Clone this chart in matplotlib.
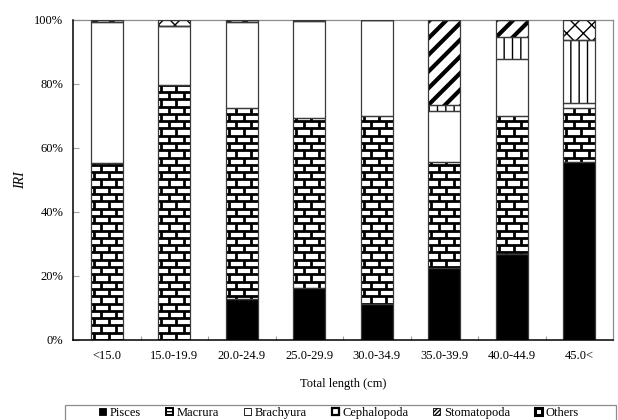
import numpy as np
import matplotlib
matplotlib.use("Agg")
import matplotlib.pyplot as plt
from matplotlib.patches import Patch, Rectangle
from matplotlib.collections import LineCollection

plt.rcParams['font.family'] = ['Liberation Serif', 'DejaVu Serif']
plt.rcParams['font.size'] = 9

# IRI composition (%) by total length class
categories = ['<15.0', '15.0-19.9', '20.0-24.9', '25.0-29.9',
              '30.0-34.9', '35.0-39.9', '40.0-44.9', '45.0<']
pisces      = [0.0, 0.0, 12.7, 16.1, 11.3, 22.4, 26.8, 55.5]
macrura     = [55.3, 79.7, 59.9, 53.4, 58.7, 33.1, 43.2, 17.0]
brachyura   = [44.2, 18.4, 26.9, 30.2, 30.0, 16.1, 17.7, 1.5]
cephalopoda = [0.0, 0.0, 0.0, 0.0, 0.0, 1.7, 7.1, 19.75]
stomatopoda = [0.5, 0.0, 0.5, 0.3, 0.0, 26.7, 5.2, 0.0]
others      = [0.0, 1.9, 0.0, 0.0, 0.0, 0.0, 0.0, 6.25]
yticks = [0, 20, 40, 60, 80, 100]
ytick_labels = ['0%', '20%', '40%', '60%', '80%', '100%']

W, H = 618, 420
fig = plt.figure(figsize=(W / 100, H / 100), dpi=100)
ax = fig.add_axes([73 / W, 1 - 340 / H, 540 / W, 320 / H])

x = np.arange(len(categories))
bw = 0.47

series = [
    ('Pisces', pisces, dict(facecolor='black', hatch=None, hlw=1.0)),
    ('Macrura', macrura, dict(facecolor='white', hatch=None, hlw=1.0)),
    ('Brachyura', brachyura, dict(facecolor='white', hatch=None, hlw=1.0)),
    ('Cephalopoda', cephalopoda, dict(facecolor='white', hatch='||', hlw=1.0)),
    ('Stomatopoda', stomatopoda, dict(facecolor='white', hatch='//', hlw=3.0)),
    ('Others', others, dict(facecolor='white', hatch='xx', hlw=1.0)),
]


def brick_lines(x0, x1, y0, y1, row_h=2.28, period=0.222, pad=0.3):
    """Mortar lines of a brick pattern covering the rectangle."""
    segs = []
    k0 = int(np.floor(y0 / row_h)) - 1
    k1 = int(np.ceil(y1 / row_h)) + 1
    for k in range(k0, k1 + 1):
        yb = k * row_h
        segs.append([(x0 - pad, yb), (x1 + pad, yb)])
        shift = (k % 2) * period / 2 + period * 0.2
        xs = x0 + shift + period * np.arange(-2, int((x1 - x0) / period) + 3)
        for xv in xs:
            segs.append([(xv, yb), (xv, yb + row_h)])
    return segs


bottom = np.zeros(len(categories))
for name, vals, st in series:
    vals = np.asarray(vals, dtype=float)
    bars = ax.bar(x, vals, bw, bottom=bottom, color=st['facecolor'],
                  edgecolor='black', linewidth=0, hatch=st['hatch'], zorder=2)
    for b in bars:
        if hasattr(b, 'set_hatch_linewidth'):
            b.set_hatch_linewidth(st['hlw'])
    # outline of each segment
    ax.bar(x, vals, bw, bottom=bottom, fill=False, edgecolor='#3a3a3a',
           linewidth=0.9, zorder=4)
    if name == 'Macrura':
        for b, xi, v, b0 in zip(bars, x, vals, bottom):
            if v <= 0:
                continue
            lc = LineCollection(brick_lines(xi - bw / 2, xi + bw / 2, b0, b0 + v),
                                colors='black', linewidths=2.0, zorder=3)
            ax.add_collection(lc)
            lc.set_clip_path(b)
    bottom += vals

ax.set_xlim(-0.5, len(categories) - 0.5)
ax.set_ylim(0, 100)
ax.set_xticks(x)
ax.set_xticklabels(categories)
ax.set_xticks(np.arange(0.5, len(categories) - 0.5, 1), minor=True)
ax.tick_params(axis='x', which='major', length=0, pad=7)
ax.tick_params(axis='x', which='minor', direction='in', length=3,
               color='#a0a0a0', width=0.8)
ax.set_yticks(yticks)
ax.set_yticklabels(ytick_labels)
ax.tick_params(axis='y', direction='in', length=4, color='#a0a0a0',
               width=0.8, pad=7)

for side in ['left', 'bottom']:
    ax.spines[side].set_color('black')
    ax.spines[side].set_linewidth(1.1)
for side in ['top', 'right']:
    ax.spines[side].set_color('#8c8c8c')
    ax.spines[side].set_linewidth(0.9)
ax.spines['left'].set_zorder(5)
ax.spines['bottom'].set_zorder(5)

ax.set_xlabel('Total length (cm)', labelpad=12)
ax.set_ylabel('IRI', style='italic', labelpad=5, fontsize=10)

# legend frame running off the lower edge
fig.patches.append(Rectangle((65 / W, -0.1), (616 - 65) / W, 0.1 + (420 - 405) / H,
                             transform=fig.transFigure, fill=False,
                             edgecolor='#8c8c8c', linewidth=0.9))

handles = [
    Patch(facecolor='black', edgecolor='black', linewidth=0.6),
    Patch(facecolor='white', edgecolor='black', linewidth=1.4, hatch='-----'),
    Patch(facecolor='white', edgecolor='black', linewidth=0.6),
    Patch(facecolor='white', edgecolor='black', linewidth=1.6),
    Patch(facecolor='white', edgecolor='black', linewidth=0.6, hatch='////////'),
    Patch(facecolor='white', edgecolor='black', linewidth=2.2),
]
labels = [s[0] for s in series]
leg = fig.legend(handles, labels, loc='upper left',
                 bbox_to_anchor=(99 / W, 1 - 407 / H), ncol=6, frameon=False,
                 borderpad=0, borderaxespad=0, handlelength=0.55,
                 handleheight=0.55, handletextpad=0.3, columnspacing=2.0)

fig.savefig('out.png', dpi=100)
